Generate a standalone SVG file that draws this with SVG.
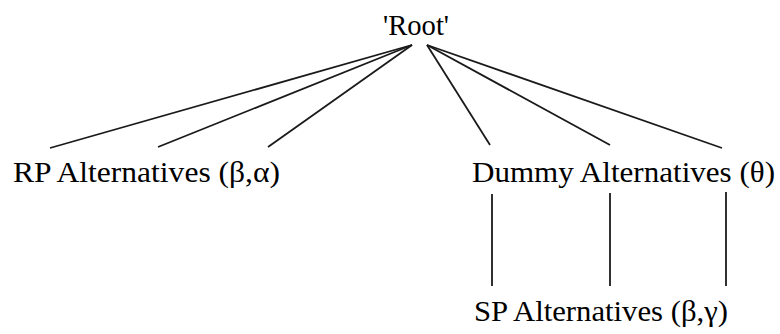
<svg xmlns="http://www.w3.org/2000/svg" width="780" height="334" viewBox="0 0 780 334">
  <style>
    .label { font-family: "Liberation Serif", "Times New Roman", serif; font-size: 30px; fill: #000; }
    .edge { stroke: #1a1a1a; stroke-width: 1.8; fill: none; }
  </style>
  <rect width="780" height="334" fill="#fff"/>
  <g id="connectors">
    <line class="edge" x1="412" y1="45" x2="50" y2="148"/>
    <line class="edge" x1="412" y1="45" x2="158" y2="147"/>
    <line class="edge" x1="412" y1="45" x2="268" y2="147"/>
    <line class="edge" x1="427" y1="45" x2="490" y2="145"/>
    <line class="edge" x1="427" y1="45" x2="610" y2="145"/>
    <line class="edge" x1="427" y1="45" x2="722" y2="148"/>
    <line class="edge" x1="492" y1="194" x2="492" y2="286"/>
    <line class="edge" x1="610" y1="193" x2="610" y2="286"/>
    <line class="edge" x1="726" y1="192" x2="726" y2="286"/>
  </g>
  <g id="root">
    <text class="label" x="383" y="35" textLength="66" lengthAdjust="spacingAndGlyphs">'Root'</text>
  </g>
  <g id="rp-alternatives">
    <text class="label" x="13" y="182" textLength="267" lengthAdjust="spacingAndGlyphs">RP Alternatives (β,α)</text>
  </g>
  <g id="dummy-alternatives">
    <text class="label" x="472" y="182" textLength="303" lengthAdjust="spacingAndGlyphs">Dummy Alternatives (θ)</text>
  </g>
  <g id="sp-alternatives">
    <text class="label" x="474" y="321" textLength="254" lengthAdjust="spacingAndGlyphs">SP Alternatives (β,γ)</text>
  </g>
</svg>
